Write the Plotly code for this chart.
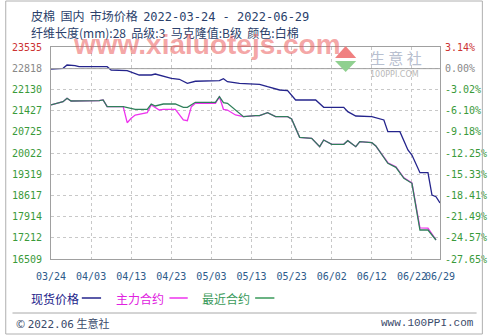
import plotly.graph_objects as go

# ---------------- data ----------------
spot_dates = ["2022-03-24", "2022-03-27", "2022-03-28", "2022-03-30", "2022-03-31", "2022-04-07",
              "2022-04-08", "2022-04-12", "2022-04-15", "2022-04-18", "2022-04-19", "2022-04-22",
              "2022-04-23", "2022-04-25", "2022-04-27", "2022-04-29", "2022-05-05", "2022-05-06",
              "2022-05-07", "2022-05-10", "2022-05-15", "2022-05-17", "2022-05-20", "2022-05-22",
              "2022-05-24", "2022-05-29", "2022-05-31", "2022-06-05", "2022-06-06", "2022-06-08",
              "2022-06-12", "2022-06-15", "2022-06-16", "2022-06-19", "2022-06-21", "2022-06-22",
              "2022-06-24", "2022-06-26", "2022-06-27", "2022-06-28", "2022-06-29"]
spot_vals = [22800, 22829, 22938, 22920, 22882, 22882,
             22773, 22750, 22607, 22607, 22640, 22551,
             22498, 22465, 22332, 22400, 22418, 22485,
             22385, 22332, 22299, 22219, 22110, 22087,
             21779, 21779, 21537, 21537, 21391, 21248,
             21225, 21116, 20728, 20728, 20122, 19956,
             19369, 19369, 18630, 18574, 18365]

near_dates = ["2022-03-24", "2022-03-26", "2022-03-27", "2022-03-28", "2022-03-29", "2022-04-05",
              "2022-04-06", "2022-04-07", "2022-04-11", "2022-04-14", "2022-04-17", "2022-04-18",
              "2022-04-19", "2022-04-21", "2022-04-24", "2022-04-26", "2022-04-27", "2022-04-29",
              "2022-05-04", "2022-05-05", "2022-05-06", "2022-05-07", "2022-05-10", "2022-05-11",
              "2022-05-14", "2022-05-15", "2022-05-17", "2022-05-19", "2022-05-22", "2022-05-23",
              "2022-05-25", "2022-05-28", "2022-05-30", "2022-05-31", "2022-06-02", "2022-06-05",
              "2022-06-06", "2022-06-08", "2022-06-09", "2022-06-12", "2022-06-13", "2022-06-16",
              "2022-06-18", "2022-06-20", "2022-06-22", "2022-06-24", "2022-06-26", "2022-06-28"]
near_vals = [21613, 21669, 21722, 21835, 21745, 21755,
             21779, 21557, 21557, 21470, 21470, 21646,
             21580, 21646, 21646, 21537, 21537, 21702,
             21702, 21888, 21689, 21669, 21338, 21225,
             21258, 21258, 21358, 21225, 21225, 21150,
             20542, 20509, 20231, 20453, 20310, 20310,
             20430, 20231, 20397, 20364, 20254, 19681,
             19548, 19184, 19018, 17470, 17470, 17139]

main_dates = ["2022-03-24", "2022-03-26", "2022-03-27", "2022-03-28", "2022-03-29", "2022-04-05",
              "2022-04-06", "2022-04-07", "2022-04-11", "2022-04-12", "2022-04-13", "2022-04-14",
              "2022-04-17", "2022-04-18", "2022-04-20", "2022-04-21", "2022-04-24", "2022-04-26",
              "2022-04-27", "2022-04-28", "2022-04-29", "2022-05-04", "2022-05-05", "2022-05-06",
              "2022-05-07", "2022-05-09", "2022-05-11", "2022-05-14", "2022-05-15", "2022-05-17",
              "2022-05-19", "2022-05-22", "2022-05-23", "2022-05-25", "2022-05-28", "2022-05-30",
              "2022-05-31", "2022-06-02", "2022-06-05", "2022-06-06", "2022-06-08", "2022-06-09",
              "2022-06-12", "2022-06-13", "2022-06-16", "2022-06-18", "2022-06-20", "2022-06-22",
              "2022-06-24", "2022-06-26", "2022-06-28"]
main_vals = [21613, 21669, 21722, 21835, 21745, 21755,
             21779, 21557, 21557, 21026, 21172, 21281,
             21358, 21613, 21447, 21470, 21470, 21116,
             21093, 21557, 21669, 21669, 21888, 21470,
             21447, 21281, 21225, 21258, 21258, 21358,
             21225, 21225, 21150, 20542, 20509, 20231,
             20453, 20310, 20310, 20430, 20231, 20397,
             20364, 20254, 19700, 19570, 19200, 19030,
             17540, 17530, 17139]

y_ticks = [23535, 22818, 22130, 21427, 20725, 20022, 19319, 18617, 17914, 17212, 16509]
pct_ticks = ["3.14%", "0.00%", "-3.02%", "-6.10%", "-9.18%", "-12.25%", "-15.33%",
             "-18.41%", "-21.49%", "-24.57%", "-27.65%"]
x_tick_dates = ["2022-03-24", "2022-04-03", "2022-04-13", "2022-04-23", "2022-05-03", "2022-05-13",
                "2022-05-23", "2022-06-02", "2022-06-12", "2022-06-22", "2022-06-29"]
x_tick_labels = ["03/24", "04/03", "04/13", "04/23", "05/03", "05/13",
                 "05/23", "06/02", "06/12", "06/22", "06/29"]
base_value = 22818

# ---------------- layout helpers ----------------
W, H = 499, 336
L, R, T, B = 48, 452, 47, 259


def px(x):
    return (x - L) / (R - L)


def py(y):
    return (B - y) / (B - T)


RED = "#cc3333"
GREY = "#888888"
GREEN = "#3a9a3a"


def color_label(i, txt):
    if i == 0:
        return f"<span style='color:{RED}'>{txt}</span>"
    if i == 1:
        return f"<span style='color:{GREY}'>{txt}</span>"
    return txt


left_text = [color_label(i, str(v)) for i, v in enumerate(y_ticks)]
right_text = [color_label(i, t) for i, t in enumerate(pct_ticks)]

SPOT_C = "#24248c"
MAIN_C = "#ee33ee"
NEAR_C = "#2f7f5a"

fig = go.Figure()
fig.add_trace(go.Scatter(x=spot_dates, y=spot_vals, mode="lines", name="现货价格",
                         line=dict(color=SPOT_C, width=1.3), hoverinfo="skip"))
fig.add_trace(go.Scatter(x=main_dates, y=main_vals, mode="lines", name="主力合约",
                         line=dict(color=MAIN_C, width=1.3), hoverinfo="skip"))
fig.add_trace(go.Scatter(x=near_dates, y=near_vals, mode="lines", name="最近合约",
                         line=dict(color=NEAR_C, width=1.3), hoverinfo="skip"))
# invisible trace to activate the right axis
fig.add_trace(go.Scatter(x=spot_dates, y=spot_vals, mode="lines", yaxis="y2",
                         line=dict(color="rgba(0,0,0,0)", width=0), showlegend=False,
                         hoverinfo="skip"))

tick_font = dict(family="DejaVu Sans Mono", size=10, color=GREEN)

fig.update_layout(
    width=W, height=H,
    margin=dict(l=L, r=W - R, t=T, b=H - B),
    paper_bgcolor="white", plot_bgcolor="white",
    showlegend=False,
    xaxis=dict(type="date", range=[x_tick_dates[0], x_tick_dates[-1]],
               tickvals=x_tick_dates, ticktext=x_tick_labels, tickangle=0,
               tickfont=dict(family="DejaVu Sans Mono", size=10, color="#2d5a8a"),
               showgrid=True, gridcolor="#c8c8c8", griddash="dot", gridwidth=1,
               showline=True, linecolor="#a0a0a0", linewidth=1, mirror=True,
               ticks="", ticklabelstandoff=8, zeroline=False, fixedrange=True),
    yaxis=dict(range=[y_ticks[-1], y_ticks[0]], tickvals=y_ticks, ticktext=left_text,
               tickfont=tick_font,
               showgrid=True, gridcolor="#c8c8c8", griddash="dot", gridwidth=1,
               showline=True, linecolor="#a0a0a0", linewidth=1, mirror=True,
               ticks="", ticklabelstandoff=6, zeroline=False, fixedrange=True),
    yaxis2=dict(range=[y_ticks[-1], y_ticks[0]], tickvals=y_ticks, ticktext=right_text,
                tickfont=tick_font, overlaying="y", side="right",
                showgrid=False, showline=False, ticks="", ticklabelstandoff=4,
                zeroline=False, fixedrange=True),
)

# zero (base) line
fig.add_hline(y=base_value, line=dict(color="#a0a0a0", width=1))

ann = []
TITLE_C = "#2b3f6b"
ann.append(dict(x=px(25), y=py(15), xref="paper", yref="paper", xanchor="left", yanchor="middle",
                text="皮棉  国内  市场价格  <span style='font-family:DejaVu Sans Mono'>2022-03-24 - 2022-06-29</span>",
                showarrow=False, font=dict(family="Noto Sans CJK SC", size=12, color=TITLE_C)))
ann.append(dict(x=px(25), y=py(32), xref="paper", yref="paper", xanchor="left", yanchor="middle",
                text="纤维长度(mm):28  品级:3  马克隆值:B级  颜色:白棉",
                showarrow=False, font=dict(family="Noto Sans CJK SC", size=12, color=TITLE_C)))
# watermark
ann.append(dict(x=px(210), y=py(45), xref="paper", yref="paper", xanchor="center", yanchor="middle",
                text="<b>www.xialuotejs.com</b>", showarrow=False,
                font=dict(family="Liberation Sans", size=28, color="rgba(235,90,90,0.55)")))
# logo text
ann.append(dict(x=px(406), y=py(57), xref="paper", yref="paper", xanchor="center", yanchor="middle",
                text="生 意 社", showarrow=False,
                font=dict(family="Noto Sans CJK SC", size=15, color="#b8c0d0")))
ann.append(dict(x=px(405), y=py(74), xref="paper", yref="paper", xanchor="center", yanchor="middle",
                text="100PPI.COM", showarrow=False,
                font=dict(family="DejaVu Sans", size=8, color="#b8b8b8")))
# legend texts
leg = [("现货价格", 25, 80, 100, SPOT_C, "#22228a"),
       ("主力合约", 113, 171, 190, MAIN_C, "#e020e0"),
       ("最近合约", 203, 260, 280, "#3a9a5a", "#3a9a5a")]
shapes = []
for txt, tx, l0, l1, lc, tc in leg:
    ann.append(dict(x=px(tx), y=py(298), xref="paper", yref="paper", xanchor="left", yanchor="middle",
                    text=txt, showarrow=False,
                    font=dict(family="Noto Sans CJK SC", size=12, color=tc)))
    shapes.append(dict(type="line", xref="paper", yref="paper", x0=px(l0), x1=px(l1),
                       y0=py(298), y1=py(298), line=dict(color=lc, width=1.5)))
# footer
ann.append(dict(x=px(10), y=py(323), xref="paper", yref="paper", xanchor="left", yanchor="middle",
                text="© <span style='font-family:DejaVu Sans Mono'>2022.06</span> 生意社", showarrow=False,
                font=dict(family="Noto Sans CJK SC", size=11, color="#3a4a6a")))
ann.append(dict(x=px(489), y=py(323), xref="paper", yref="paper", xanchor="right", yanchor="middle",
                text="www.100PPI.com", showarrow=False,
                font=dict(family="Liberation Mono", size=11, color="#3a4a6a")))
# footer separator and outer frame
shapes.append(dict(type="line", xref="paper", yref="paper", x0=px(8), x1=px(490),
                   y0=py(313), y1=py(313), line=dict(color="#a8a8a8", width=1)))
shapes.append(dict(type="rect", xref="paper", yref="paper", x0=px(1), x1=px(496),
                   y0=py(1), y1=py(334), line=dict(color="#b0b0b0", width=1)))
# logo triangles
shapes.append(dict(type="path", xref="paper", yref="paper",
                   path=f"M {px(343)} {py(58)} L {px(354)} {py(46)} L {px(365)} {py(58)} Z",
                   fillcolor="#f08080", line=dict(width=0)))
shapes.append(dict(type="path", xref="paper", yref="paper",
                   path=f"M {px(343)} {py(61)} L {px(354)} {py(72)} L {px(365)} {py(61)} Z",
                   fillcolor="#90d090", line=dict(width=0)))

fig.update_layout(annotations=ann, shapes=list(fig.layout.shapes) + shapes)

fig.write_html("out.html")
